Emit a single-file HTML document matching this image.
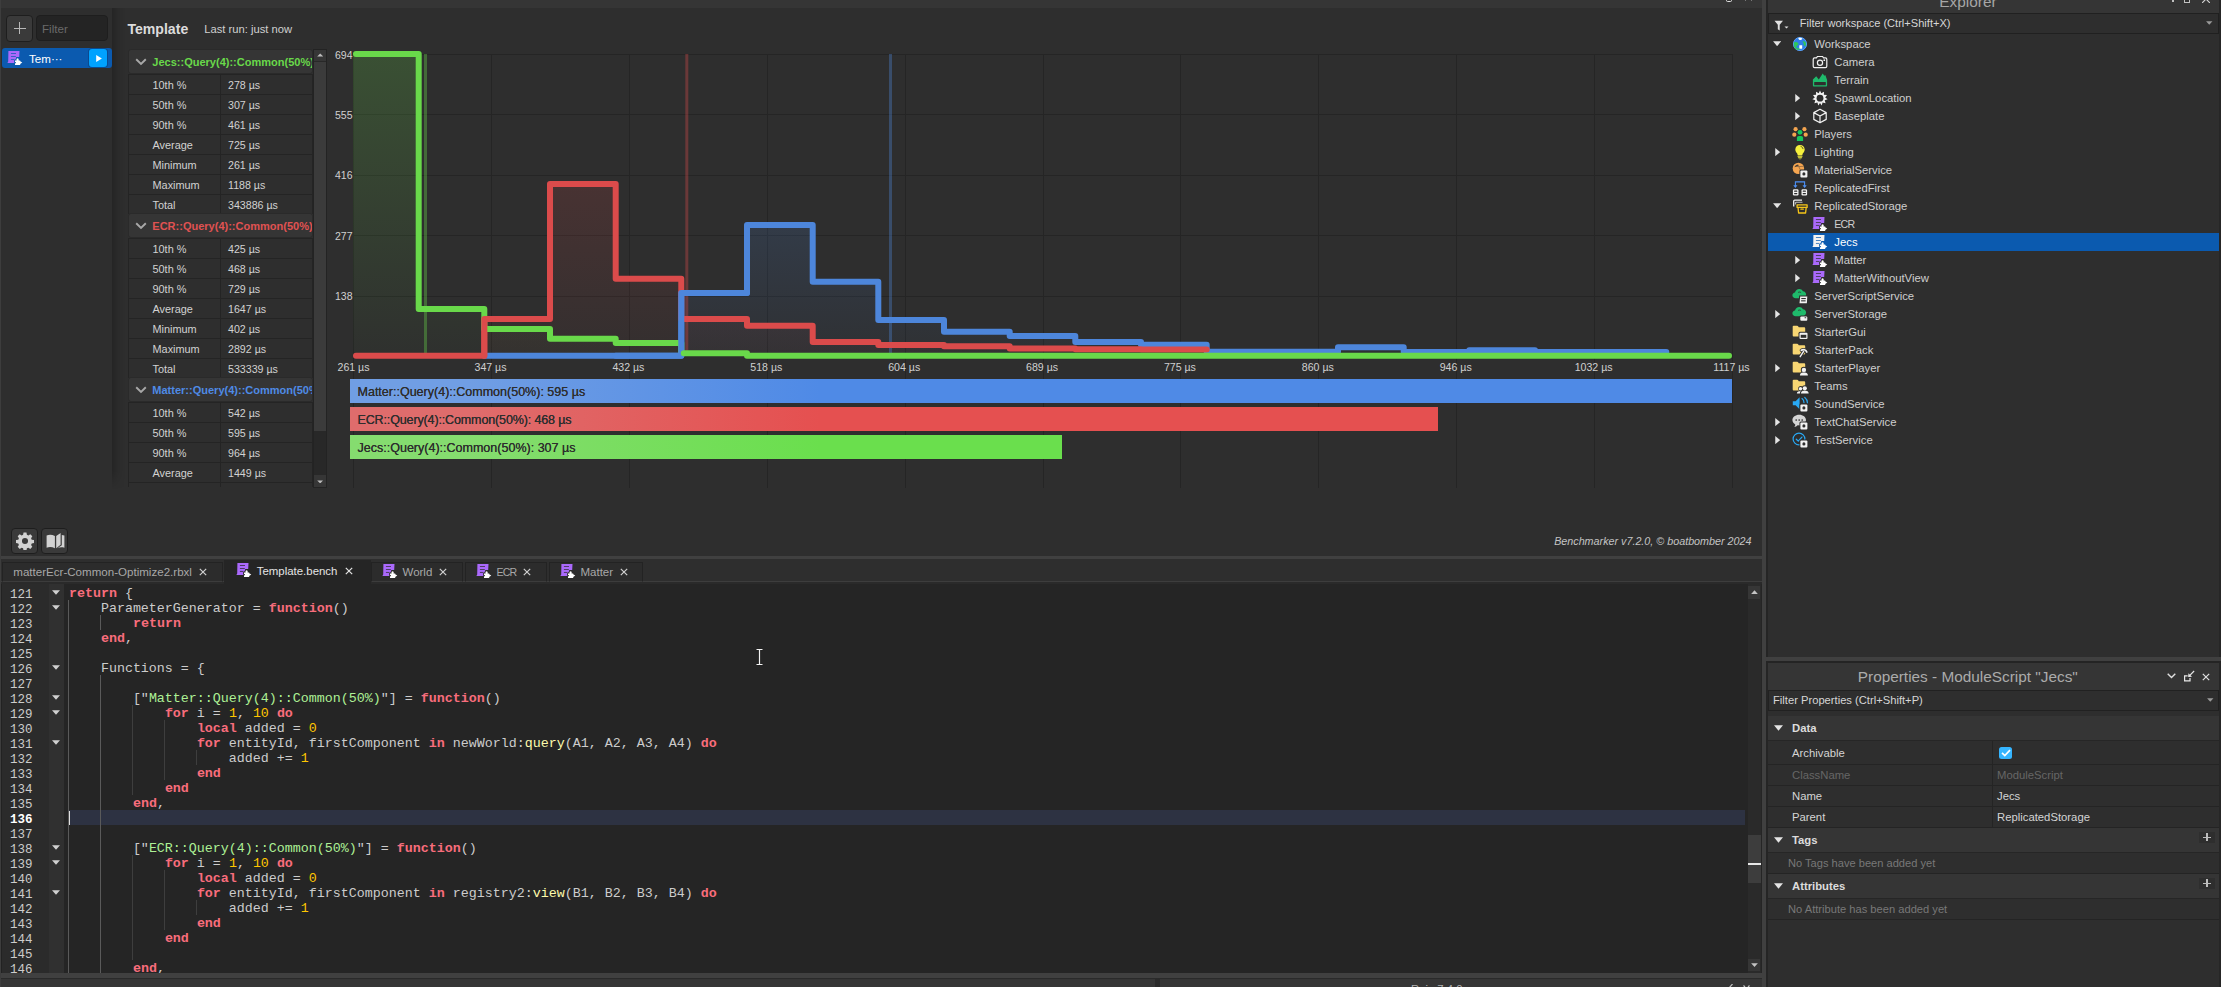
<!DOCTYPE html><html><head><meta charset="utf-8"><title>Benchmarker</title><style>
*{box-sizing:border-box;margin:0;padding:0}
html,body{width:2221px;height:987px;overflow:hidden;background:#2e2e2e;font-family:"Liberation Sans",sans-serif;color:#ccc}
div,span,svg{position:absolute}
.t{white-space:pre;height:20px;line-height:20px}
.ic{overflow:visible}
.m{font-family:"Liberation Mono",monospace;font-size:13.33px;white-space:pre;height:15px;line-height:15px;color:#ccc}
.k{color:#f86d7c;font-weight:bold;position:static}
.n{color:#ffc600;position:static}
.s{color:#adf195;position:static}
.f{color:#fdfbac;position:static}
.ln{font-family:"Liberation Mono",monospace;font-size:12.5px;height:15px;line-height:15px;left:10px;color:#ccc;white-space:pre}
.g{width:1px;background:#3e3e3e;height:15px}
.row{left:128px;width:185px;height:20px;border-top:1px solid #242424}
.hd{left:128px;width:185px;height:25px;background:#353535;border:1px solid #2a2a2a;border-radius:3px;overflow:hidden}
.tr{left:1768px;width:451px;height:18px}
.pr{left:1768px;width:451px;border-bottom:1px solid #222}
</style></head><body><div style="left:0px;top:0px;width:1762px;height:7.8px;background:#353535;"></div><div style="left:1725.8px;top:-3px;width:6.5px;height:5px;background:transparent;border:1.200px solid #e0e0e0;border-radius:1.500px"></div><div style="left:1744.5px;top:0px;width:1.2px;height:1px;background:#777;"></div><div style="left:1750.5px;top:0px;width:1.2px;height:1px;background:#777;"></div><div style="left:0px;top:0px;width:1.1px;height:556px;background:#3d3d3d;"></div><div style="left:6px;top:15px;width:26.5px;height:26.5px;background:#3a3a3a;border:1px solid #1e1e1e;border-radius:4px"></div><div style="left:13.5px;top:27.6px;width:12px;height:1.5px;background:#b8b8b8;"></div><div style="left:18.75px;top:22.3px;width:1.5px;height:12px;background:#b8b8b8;"></div><div style="left:36px;top:15px;width:72px;height:26px;background:#242424;border:1px solid #1e1e1e;border-radius:4px"></div><span class="t" style="left:42px;top:18.5px;font-size:11.6px;color:#6a6a6a;font-weight:normal;">Filter</span><div style="left:2px;top:48px;width:110px;height:20px;background:#0b5aaf;border-radius:3px"></div><svg class="ic" style="left:7px;top:50px" width="16" height="16" viewBox="0 0 16 16"><path fill="#aa69fb" d="M1.400.9H12.500L12.200 6.900H9.300L9.100 9.500H8V13.100H.4L1.200 11.400Z"/><g fill="#0b5aaf" opacity=".8"><rect x="3.900" y="3.050" width="5.100" height=".9"/><rect x="3.900" y="6" width="4.900" height=".9"/><rect x="3.900" y="8.950" width="3.600" height=".9"/></g><path fill="#0b5aaf" stroke="#0b5aaf" stroke-width="1.700" stroke-linejoin="round" d="M8 10.600H9.600C8.700 7.300 12.500 7.300 11.600 10.600H13.200V11.200L15.300 12.600 13.200 14V14.900H8V13.300C9.300 13.800 9.300 11.500 8 12Z"/><path fill="#fff" d="M8 10.600H9.600C8.700 7.300 12.500 7.300 11.600 10.600H13.200V11.200L15.300 12.600 13.200 14V14.900H8V13.300C9.300 13.800 9.300 11.500 8 12Z"/></svg><span class="t" style="left:29px;top:48.5px;font-size:11.6px;color:#ffffff;font-weight:normal;">Tem···</span><div style="left:89px;top:49px;width:18px;height:18px;background:#00a2ff;border-radius:3px;box-shadow:0 0 0 1px #0a4a90"></div><svg style="left:95.500px;top:54.500px" width="6" height="7" viewBox="0 0 6 7"><path fill="#fff" d="M.2 0 5.900 3.500.2 7z"/></svg><div style="left:112px;top:8px;width:13px;height:481px;background:linear-gradient(90deg,rgba(0,0,0,.2),rgba(0,0,0,.07) 45%,rgba(0,0,0,0));-webkit-mask-image:linear-gradient(#000 96%,transparent)"></div><span class="t" style="left:127.4px;top:19px;font-size:14.1px;color:#dcdcdc;font-weight:bold;">Template</span><span class="t" style="left:204.3px;top:19px;font-size:11.2px;color:#d0d0d0;font-weight:normal;">Last run: just now</span><div style="left:120px;top:49px;width:200px;height:438px;overflow:hidden"><div class="row" style="left:8px;top:25px;border-left:1px solid #242424;border-right:1px solid #242424"><div style="left:91px;top:0;width:1px;height:20px;background:#242424"></div><span class="t" style="left:23.500px;top:0px;font-size:10.9px;color:#d2d2d2">10th %</span><span class="t" style="left:99px;top:0px;font-size:10.65px;color:#d2d2d2">278 µs</span></div><div class="row" style="left:8px;top:45px;border-left:1px solid #242424;border-right:1px solid #242424"><div style="left:91px;top:0;width:1px;height:20px;background:#242424"></div><span class="t" style="left:23.500px;top:0px;font-size:10.9px;color:#d2d2d2">50th %</span><span class="t" style="left:99px;top:0px;font-size:10.65px;color:#d2d2d2">307 µs</span></div><div class="row" style="left:8px;top:65px;border-left:1px solid #242424;border-right:1px solid #242424"><div style="left:91px;top:0;width:1px;height:20px;background:#242424"></div><span class="t" style="left:23.500px;top:0px;font-size:10.9px;color:#d2d2d2">90th %</span><span class="t" style="left:99px;top:0px;font-size:10.65px;color:#d2d2d2">461 µs</span></div><div class="row" style="left:8px;top:85px;border-left:1px solid #242424;border-right:1px solid #242424"><div style="left:91px;top:0;width:1px;height:20px;background:#242424"></div><span class="t" style="left:23.500px;top:0px;font-size:10.9px;color:#d2d2d2">Average</span><span class="t" style="left:99px;top:0px;font-size:10.65px;color:#d2d2d2">725 µs</span></div><div class="row" style="left:8px;top:105px;border-left:1px solid #242424;border-right:1px solid #242424"><div style="left:91px;top:0;width:1px;height:20px;background:#242424"></div><span class="t" style="left:23.500px;top:0px;font-size:10.9px;color:#d2d2d2">Minimum</span><span class="t" style="left:99px;top:0px;font-size:10.65px;color:#d2d2d2">261 µs</span></div><div class="row" style="left:8px;top:125px;border-left:1px solid #242424;border-right:1px solid #242424"><div style="left:91px;top:0;width:1px;height:20px;background:#242424"></div><span class="t" style="left:23.500px;top:0px;font-size:10.9px;color:#d2d2d2">Maximum</span><span class="t" style="left:99px;top:0px;font-size:10.65px;color:#d2d2d2">1188 µs</span></div><div class="row" style="left:8px;top:145px;border-left:1px solid #242424;border-right:1px solid #242424"><div style="left:91px;top:0;width:1px;height:20px;background:#242424"></div><span class="t" style="left:23.500px;top:0px;font-size:10.9px;color:#d2d2d2">Total</span><span class="t" style="left:99px;top:0px;font-size:10.65px;color:#d2d2d2">343886 µs</span></div><div class="hd" style="left:8px;top:0px"><svg style="left:6px;top:8px" width="12" height="8" viewBox="0 0 12 8"><path fill="none" stroke="#a8a8a8" stroke-width="1.900" d="M1.200 1.300 6 6 10.800 1.300"/></svg><span class="t" style="left:23.300px;top:1.500px;font-size:11.03px;font-weight:bold;color:#69d94a">Jecs::Query(4)::Common(50%)</span></div><div class="row" style="left:8px;top:189px;border-left:1px solid #242424;border-right:1px solid #242424"><div style="left:91px;top:0;width:1px;height:20px;background:#242424"></div><span class="t" style="left:23.500px;top:0px;font-size:10.9px;color:#d2d2d2">10th %</span><span class="t" style="left:99px;top:0px;font-size:10.65px;color:#d2d2d2">425 µs</span></div><div class="row" style="left:8px;top:209px;border-left:1px solid #242424;border-right:1px solid #242424"><div style="left:91px;top:0;width:1px;height:20px;background:#242424"></div><span class="t" style="left:23.500px;top:0px;font-size:10.9px;color:#d2d2d2">50th %</span><span class="t" style="left:99px;top:0px;font-size:10.65px;color:#d2d2d2">468 µs</span></div><div class="row" style="left:8px;top:229px;border-left:1px solid #242424;border-right:1px solid #242424"><div style="left:91px;top:0;width:1px;height:20px;background:#242424"></div><span class="t" style="left:23.500px;top:0px;font-size:10.9px;color:#d2d2d2">90th %</span><span class="t" style="left:99px;top:0px;font-size:10.65px;color:#d2d2d2">729 µs</span></div><div class="row" style="left:8px;top:249px;border-left:1px solid #242424;border-right:1px solid #242424"><div style="left:91px;top:0;width:1px;height:20px;background:#242424"></div><span class="t" style="left:23.500px;top:0px;font-size:10.9px;color:#d2d2d2">Average</span><span class="t" style="left:99px;top:0px;font-size:10.65px;color:#d2d2d2">1647 µs</span></div><div class="row" style="left:8px;top:269px;border-left:1px solid #242424;border-right:1px solid #242424"><div style="left:91px;top:0;width:1px;height:20px;background:#242424"></div><span class="t" style="left:23.500px;top:0px;font-size:10.9px;color:#d2d2d2">Minimum</span><span class="t" style="left:99px;top:0px;font-size:10.65px;color:#d2d2d2">402 µs</span></div><div class="row" style="left:8px;top:289px;border-left:1px solid #242424;border-right:1px solid #242424"><div style="left:91px;top:0;width:1px;height:20px;background:#242424"></div><span class="t" style="left:23.500px;top:0px;font-size:10.9px;color:#d2d2d2">Maximum</span><span class="t" style="left:99px;top:0px;font-size:10.65px;color:#d2d2d2">2892 µs</span></div><div class="row" style="left:8px;top:309px;border-left:1px solid #242424;border-right:1px solid #242424"><div style="left:91px;top:0;width:1px;height:20px;background:#242424"></div><span class="t" style="left:23.500px;top:0px;font-size:10.9px;color:#d2d2d2">Total</span><span class="t" style="left:99px;top:0px;font-size:10.65px;color:#d2d2d2">533339 µs</span></div><div class="hd" style="left:8px;top:164px"><svg style="left:6px;top:8px" width="12" height="8" viewBox="0 0 12 8"><path fill="none" stroke="#a8a8a8" stroke-width="1.900" d="M1.200 1.300 6 6 10.800 1.300"/></svg><span class="t" style="left:23.300px;top:1.500px;font-size:11.03px;font-weight:bold;color:#e05252">ECR::Query(4)::Common(50%)</span></div><div class="row" style="left:8px;top:353px;border-left:1px solid #242424;border-right:1px solid #242424"><div style="left:91px;top:0;width:1px;height:20px;background:#242424"></div><span class="t" style="left:23.500px;top:0px;font-size:10.9px;color:#d2d2d2">10th %</span><span class="t" style="left:99px;top:0px;font-size:10.65px;color:#d2d2d2">542 µs</span></div><div class="row" style="left:8px;top:373px;border-left:1px solid #242424;border-right:1px solid #242424"><div style="left:91px;top:0;width:1px;height:20px;background:#242424"></div><span class="t" style="left:23.500px;top:0px;font-size:10.9px;color:#d2d2d2">50th %</span><span class="t" style="left:99px;top:0px;font-size:10.65px;color:#d2d2d2">595 µs</span></div><div class="row" style="left:8px;top:393px;border-left:1px solid #242424;border-right:1px solid #242424"><div style="left:91px;top:0;width:1px;height:20px;background:#242424"></div><span class="t" style="left:23.500px;top:0px;font-size:10.9px;color:#d2d2d2">90th %</span><span class="t" style="left:99px;top:0px;font-size:10.65px;color:#d2d2d2">964 µs</span></div><div class="row" style="left:8px;top:413px;border-left:1px solid #242424;border-right:1px solid #242424"><div style="left:91px;top:0;width:1px;height:20px;background:#242424"></div><span class="t" style="left:23.500px;top:0px;font-size:10.9px;color:#d2d2d2">Average</span><span class="t" style="left:99px;top:0px;font-size:10.65px;color:#d2d2d2">1449 µs</span></div><div class="row" style="left:8px;top:433px;border-left:1px solid #242424;border-right:1px solid #242424"><div style="left:91px;top:0;width:1px;height:20px;background:#242424"></div><span class="t" style="left:23.500px;top:0px;font-size:10.9px;color:#d2d2d2">Minimum</span><span class="t" style="left:99px;top:0px;font-size:10.65px;color:#d2d2d2">521 µs</span></div><div class="row" style="left:8px;top:453px;border-left:1px solid #242424;border-right:1px solid #242424"><div style="left:91px;top:0;width:1px;height:20px;background:#242424"></div><span class="t" style="left:23.500px;top:0px;font-size:10.9px;color:#d2d2d2">Maximum</span><span class="t" style="left:99px;top:0px;font-size:10.65px;color:#d2d2d2">4120 µs</span></div><div class="row" style="left:8px;top:473px;border-left:1px solid #242424;border-right:1px solid #242424"><div style="left:91px;top:0;width:1px;height:20px;background:#242424"></div><span class="t" style="left:23.500px;top:0px;font-size:10.9px;color:#d2d2d2">Total</span><span class="t" style="left:99px;top:0px;font-size:10.65px;color:#d2d2d2">1014300 µs</span></div><div class="hd" style="left:8px;top:328px"><svg style="left:6px;top:8px" width="12" height="8" viewBox="0 0 12 8"><path fill="none" stroke="#a8a8a8" stroke-width="1.900" d="M1.200 1.300 6 6 10.800 1.300"/></svg><span class="t" style="left:23.300px;top:1.500px;font-size:11.03px;font-weight:bold;color:#4f8be6">Matter::Query(4)::Common(50%)</span></div></div><div style="left:313.3px;top:48.5px;width:13.7px;height:439px;background:#282828;border:1px solid #232323"></div><div style="left:314.3px;top:49.5px;width:11.7px;height:11.5px;background:#363636;"></div><div style="left:314.3px;top:62px;width:11.7px;height:369px;background:#3b3b3b;"></div><div style="left:314.3px;top:475px;width:11.7px;height:11.5px;background:#363636;"></div><svg style="left:317px;top:53px" width="6.400" height="3.800" viewBox="0 0 8 5"><path fill="#bdbdbd" d="M0 4.500 4 .5 8 4.500z"/></svg><svg style="left:317px;top:479.500px" width="6.400" height="3.800" viewBox="0 0 8 5"><path fill="#bdbdbd" d="M0 .5 4 4.500 8 .5z"/></svg><svg style="left:0;top:0" width="1770" height="500" viewBox="0 0 1770 500"><defs><linearGradient id="gg" x1="0" y1="0" x2="0" y2="1"><stop offset="0" stop-color="#69d94a" stop-opacity=".2"/><stop offset="1" stop-color="#69d94a" stop-opacity=".015"/></linearGradient><linearGradient id="gr" x1="0" y1="0" x2="0" y2="1"><stop offset="0" stop-color="#db4b4b" stop-opacity=".15"/><stop offset="1" stop-color="#db4b4b" stop-opacity=".03"/></linearGradient><linearGradient id="gb" x1="0" y1="0" x2="0" y2="1"><stop offset="0" stop-color="#4d86db" stop-opacity=".15"/><stop offset="1" stop-color="#4d86db" stop-opacity=".03"/></linearGradient></defs><rect x="353" y="54" width="1" height="434" fill="#252525"/><rect x="491" y="54" width="1" height="434" fill="#252525"/><rect x="629" y="54" width="1" height="434" fill="#252525"/><rect x="767" y="54" width="1" height="434" fill="#252525"/><rect x="905" y="54" width="1" height="434" fill="#252525"/><rect x="1043" y="54" width="1" height="434" fill="#252525"/><rect x="1180" y="54" width="1" height="434" fill="#252525"/><rect x="1318" y="54" width="1" height="434" fill="#252525"/><rect x="1456" y="54" width="1" height="434" fill="#252525"/><rect x="1594" y="54" width="1" height="434" fill="#252525"/><rect x="1732" y="54" width="1" height="434" fill="#252525"/><rect x="353" y="54" width="1380" height="1" fill="#252525"/><rect x="353" y="114" width="1380" height="1" fill="#252525"/><rect x="353" y="175" width="1380" height="1" fill="#252525"/><rect x="353" y="235" width="1380" height="1" fill="#252525"/><rect x="353" y="296" width="1380" height="1" fill="#252525"/><path d="M681.3 355.5V293H747.0V225H812.7V281.8H878.3V320H944.0V331.7H1009.7V335.9H1075.3V341.9H1141.0V344.8H1206.7V351.7H1272.3V351.7H1338.0V347.3H1403.7V352H1469.3V350.2H1535.0V352H1600.7V352H1666.3V355.5Z" fill="url(#gb)"/><path d="M484.3 355.5V318.9H550.0V184H615.7V278.7H681.3V318.9H747.0V325.7H812.7V342H878.3V345H944.0V346.3H1009.7V348.4H1075.3V349.3H1141.0V349.6H1206.7V355.5Z" fill="url(#gr)"/><path d="M353.0 355.5V54H418.7V308.9H484.3V329.1H550.0V338.7H615.7V343H681.3V353.2H747.0V355.5Z" fill="url(#gg)"/><rect x="424" y="54" width="3" height="300" fill="#69d94a" opacity=".35"/><rect x="685.300" y="54" width="3" height="300" fill="#db4b4b" opacity=".35"/><rect x="889" y="54" width="3" height="300" fill="#4d86db" opacity=".35"/><path d="M484.3 355.7H550.0V355.7H615.7V355.7H681.3V293H747.0V225H812.7V281.8H878.3V320H944.0V331.7H1009.7V335.9H1075.3V341.9H1141.0V344.8H1206.7V351.7H1272.3V351.7H1338.0V347.3H1403.7V352H1469.3V350.2H1535.0V352H1600.7V352H1666.3" stroke="#4d86db" fill="none" stroke-width="6" stroke-linejoin="round" stroke-linecap="round"/><path d="M356.0 355.7H418.7V355.7H484.3V318.9H550.0V184H615.7V278.7H681.3V318.9H747.0V325.7H812.7V342H878.3V345H944.0V346.3H1009.7V348.4H1075.3V349.3H1141.0V349.6H1206.7" stroke="#db4b4b" fill="none" stroke-width="6" stroke-linejoin="round" stroke-linecap="round"/><path d="M356.0 54H418.7V308.9H484.3V329.1H550.0V338.7H615.7V343H681.3V353.2" stroke="#69d94a" fill="none" stroke-width="6" stroke-linejoin="round" stroke-linecap="round"/><path d="M615.7 355.700H681.3V293H747.0" stroke="#4d86db" fill="none" stroke-width="6" stroke-linejoin="round" stroke-linecap="round"/><path d="M683.8 353.2H747.0V355.700H1729.0" stroke="#69d94a" fill="none" stroke-width="6" stroke-linejoin="round" stroke-linecap="round"/><path d="M484.3 355.700V318.900H492.3" stroke="#db4b4b" fill="none" stroke-width="6" stroke-linejoin="round" stroke-linecap="round"/></svg><span class="t" style="right:1868.5px;top:44.5px;font-size:10.5px;color:#d0d0d0;font-weight:normal;">694</span><span class="t" style="right:1868.5px;top:104.9px;font-size:10.5px;color:#d0d0d0;font-weight:normal;">555</span><span class="t" style="right:1868.5px;top:165.3px;font-size:10.5px;color:#d0d0d0;font-weight:normal;">416</span><span class="t" style="right:1868.5px;top:225.7px;font-size:10.5px;color:#d0d0d0;font-weight:normal;">277</span><span class="t" style="right:1868.5px;top:286.0px;font-size:10.5px;color:#d0d0d0;font-weight:normal;">138</span><span class="t" style="left:337.5px;top:356.7px;font-size:10.6px;color:#d0d0d0;font-weight:normal;">261 µs</span><span class="t" style="left:490.5px;top:356.7px;font-size:10.6px;color:#d0d0d0;font-weight:normal;transform:translateX(-50%);">347 µs</span><span class="t" style="left:628.4px;top:356.7px;font-size:10.6px;color:#d0d0d0;font-weight:normal;transform:translateX(-50%);">432 µs</span><span class="t" style="left:766.3px;top:356.7px;font-size:10.6px;color:#d0d0d0;font-weight:normal;transform:translateX(-50%);">518 µs</span><span class="t" style="left:904.2px;top:356.7px;font-size:10.6px;color:#d0d0d0;font-weight:normal;transform:translateX(-50%);">604 µs</span><span class="t" style="left:1042.1px;top:356.7px;font-size:10.6px;color:#d0d0d0;font-weight:normal;transform:translateX(-50%);">689 µs</span><span class="t" style="left:1179.9px;top:356.7px;font-size:10.6px;color:#d0d0d0;font-weight:normal;transform:translateX(-50%);">775 µs</span><span class="t" style="left:1317.8px;top:356.7px;font-size:10.6px;color:#d0d0d0;font-weight:normal;transform:translateX(-50%);">860 µs</span><span class="t" style="left:1455.7px;top:356.7px;font-size:10.6px;color:#d0d0d0;font-weight:normal;transform:translateX(-50%);">946 µs</span><span class="t" style="left:1593.6px;top:356.7px;font-size:10.6px;color:#d0d0d0;font-weight:normal;transform:translateX(-50%);">1032 µs</span><span class="t" style="left:1731.5px;top:356.7px;font-size:10.6px;color:#d0d0d0;font-weight:normal;transform:translateX(-50%);">1117 µs</span><div style="left:349.5px;top:379px;width:1382.5px;height:24px;background:#4f8ae6;background:linear-gradient(90deg,#709ee4 0px,#709ee4 120px,#4f8ae6 470px,#4f8ae6 100%)"></div><span class="t" style="left:357.5px;top:382px;font-size:12.53px;color:#2e2e2e;font-weight:normal;text-shadow:0 0 .4px #2b2b2b">Matter::Query(4)::Common(50%): 595 µs</span><div style="left:349.5px;top:407px;width:1088.5px;height:24px;background:#e55050;background:linear-gradient(90deg,#df6c6c 0px,#df6c6c 120px,#e55050 470px,#e55050 100%)"></div><span class="t" style="left:357.5px;top:410px;font-size:12.53px;color:#2e2e2e;font-weight:normal;text-shadow:0 0 .4px #2b2b2b;letter-spacing:-.14px">ECR::Query(4)::Common(50%): 468 µs</span><div style="left:349.5px;top:435px;width:712.5px;height:24px;background:#6adf4d;background:linear-gradient(90deg,#85dc6f 0px,#85dc6f 120px,#6adf4d 470px,#6adf4d 100%)"></div><span class="t" style="left:357.5px;top:438px;font-size:12.53px;color:#2e2e2e;font-weight:normal;text-shadow:0 0 .4px #2b2b2b">Jecs::Query(4)::Common(50%): 307 µs</span><div style="left:11px;top:527.5px;width:26.5px;height:26px;background:#3a3a3a;border:1px solid #1e1e1e;border-radius:4px"></div><div style="left:41px;top:527.5px;width:26.5px;height:26px;background:#3a3a3a;border:1px solid #1e1e1e;border-radius:4px"></div><svg style="left:15.800px;top:532.200px" width="18" height="18" viewBox="0 0 16 16"><path fill="#d2d2d2" fill-rule="evenodd" d="M6.700.5h2.600l.4 2 1.300.6 1.700-1.100 1.800 1.800-1.100 1.700.6 1.300 2 .4v2.600l-2 .4-.6 1.300 1.100 1.700-1.800 1.800-1.700-1.100-1.300.6-.4 2H6.700l-.4-2-1.300-.6-1.700 1.100-1.800-1.800 1.100-1.700-.6-1.300-2-.4V7.200l2-.4.600-1.300L1.500 3.800 3.300 2l1.700 1.100 1.300-.6zM8 5.300a2.700 2.700 0 100 5.400 2.700 2.700 0 000-5.400z"/></svg><svg style="left:45.500px;top:531.500px" width="19" height="18" viewBox="0 0 19 18"><path fill="#d2d2d2" d="M.6 3.600C3.200 2.500 6 2.600 8.900 4.100V16.200C6.100 14.900 3.300 14.800.6 15.700zM10.200 4.100 14.600.9V12.800L10.200 16.200zM15.800 3 18.400 3.600V15.700C15.800 14.900 13.300 15.100 11.300 16.200L15.800 13.300z"/></svg><span class="t" style="right:469.5px;top:531px;font-size:10.75px;color:#c4c4c4;font-weight:normal;font-style:italic">Benchmarker v7.2.0, © boatbomber 2024</span><div style="left:0px;top:556px;width:1762px;height:3px;background:#404040;"></div><div style="left:0px;top:559px;width:1762px;height:22px;background:#2e2e2e;"></div><div style="left:0px;top:581px;width:1762px;height:1.4px;background:#3d3d3d;"></div><div style="left:0px;top:582.4px;width:1762px;height:1.6px;background:#2a2a2a;"></div><div style="left:2px;top:562px;width:221px;height:20px;background:#2c2c2c;border:1px solid #232323;border-bottom:1px solid #3c3c3c"></div><span class="t" style="left:13.3px;top:562px;font-size:11.57px;color:#a8a8a8;font-weight:normal;">matterEcr-Common-Optimize2.rbxl</span><svg style="left:199.3px;top:568px" width="8" height="8" viewBox="0 0 8 8"><path stroke="#d0d0d0" stroke-width="1.200" d="M.8.8 7.200 7.200M7.200.8.8 7.200"/></svg><div style="left:223.5px;top:559.5px;width:147px;height:24.5px;background:#252525;"></div><svg class="ic" style="left:236px;top:562px" width="16" height="16" viewBox="0 0 16 16"><path fill="#aa69fb" d="M1.400.9H12.500L12.200 6.900H9.300L9.100 9.500H8V13.100H.4L1.200 11.400Z"/><g fill="#252525" opacity=".8"><rect x="3.900" y="3.050" width="5.100" height=".9"/><rect x="3.900" y="6" width="4.900" height=".9"/><rect x="3.900" y="8.950" width="3.600" height=".9"/></g><path fill="#252525" stroke="#252525" stroke-width="1.700" stroke-linejoin="round" d="M8 10.600H9.600C8.700 7.300 12.500 7.300 11.600 10.600H13.200V11.200L15.300 12.600 13.200 14V14.900H8V13.300C9.300 13.800 9.300 11.500 8 12Z"/><path fill="#fff" d="M8 10.600H9.600C8.700 7.300 12.500 7.300 11.600 10.600H13.200V11.200L15.300 12.600 13.200 14V14.900H8V13.300C9.300 13.800 9.300 11.500 8 12Z"/></svg><span class="t" style="left:256.7px;top:560.5px;font-size:11.44px;color:#e4e4e4;font-weight:normal;">Template.bench</span><svg style="left:345.3px;top:567px" width="8" height="8" viewBox="0 0 8 8"><path stroke="#e4e4e4" stroke-width="1.200" d="M.8.8 7.200 7.200M7.200.8.8 7.200"/></svg><div style="left:371px;top:562px;width:92px;height:20px;background:#2c2c2c;border:1px solid #232323;border-bottom:1px solid #3c3c3c"></div><svg class="ic" style="left:382px;top:563px" width="16" height="16" viewBox="0 0 16 16"><path fill="#aa69fb" d="M1.400.9H12.500L12.200 6.900H9.300L9.100 9.500H8V13.100H.4L1.200 11.400Z"/><g fill="#2c2c2c" opacity=".8"><rect x="3.900" y="3.050" width="5.100" height=".9"/><rect x="3.900" y="6" width="4.900" height=".9"/><rect x="3.900" y="8.950" width="3.600" height=".9"/></g><path fill="#2c2c2c" stroke="#2c2c2c" stroke-width="1.700" stroke-linejoin="round" d="M8 10.600H9.600C8.700 7.300 12.500 7.300 11.600 10.600H13.200V11.200L15.300 12.600 13.200 14V14.900H8V13.300C9.300 13.800 9.300 11.500 8 12Z"/><path fill="#fff" d="M8 10.600H9.600C8.700 7.300 12.500 7.300 11.600 10.600H13.200V11.200L15.300 12.600 13.200 14V14.900H8V13.300C9.300 13.800 9.300 11.500 8 12Z"/></svg><span class="t" style="left:402.5px;top:562px;font-size:11.5px;color:#a8a8a8;font-weight:normal;">World</span><svg style="left:439px;top:568px" width="8" height="8" viewBox="0 0 8 8"><path stroke="#d0d0d0" stroke-width="1.200" d="M.8.8 7.200 7.200M7.200.8.8 7.200"/></svg><div style="left:465px;top:562px;width:82px;height:20px;background:#2c2c2c;border:1px solid #232323;border-bottom:1px solid #3c3c3c"></div><svg class="ic" style="left:476px;top:563px" width="16" height="16" viewBox="0 0 16 16"><path fill="#aa69fb" d="M1.400.9H12.500L12.200 6.900H9.300L9.100 9.500H8V13.100H.4L1.200 11.400Z"/><g fill="#2c2c2c" opacity=".8"><rect x="3.900" y="3.050" width="5.100" height=".9"/><rect x="3.900" y="6" width="4.900" height=".9"/><rect x="3.900" y="8.950" width="3.600" height=".9"/></g><path fill="#2c2c2c" stroke="#2c2c2c" stroke-width="1.700" stroke-linejoin="round" d="M8 10.600H9.600C8.700 7.300 12.500 7.300 11.600 10.600H13.200V11.200L15.300 12.600 13.200 14V14.900H8V13.300C9.300 13.800 9.300 11.500 8 12Z"/><path fill="#fff" d="M8 10.600H9.600C8.700 7.300 12.500 7.300 11.600 10.600H13.200V11.200L15.300 12.600 13.200 14V14.900H8V13.300C9.300 13.800 9.300 11.500 8 12Z"/></svg><span class="t" style="left:496.5px;top:562px;font-size:10.6px;color:#a8a8a8;font-weight:normal;letter-spacing:-.9px">ECR</span><svg style="left:523px;top:568px" width="8" height="8" viewBox="0 0 8 8"><path stroke="#d0d0d0" stroke-width="1.200" d="M.8.8 7.200 7.200M7.200.8.8 7.200"/></svg><div style="left:549px;top:562px;width:94px;height:20px;background:#2c2c2c;border:1px solid #232323;border-bottom:1px solid #3c3c3c"></div><svg class="ic" style="left:560px;top:563px" width="16" height="16" viewBox="0 0 16 16"><path fill="#aa69fb" d="M1.400.9H12.500L12.200 6.900H9.300L9.100 9.500H8V13.100H.4L1.200 11.400Z"/><g fill="#2c2c2c" opacity=".8"><rect x="3.900" y="3.050" width="5.100" height=".9"/><rect x="3.900" y="6" width="4.900" height=".9"/><rect x="3.900" y="8.950" width="3.600" height=".9"/></g><path fill="#2c2c2c" stroke="#2c2c2c" stroke-width="1.700" stroke-linejoin="round" d="M8 10.600H9.600C8.700 7.300 12.500 7.300 11.600 10.600H13.200V11.200L15.300 12.600 13.200 14V14.900H8V13.300C9.300 13.800 9.300 11.500 8 12Z"/><path fill="#fff" d="M8 10.600H9.600C8.700 7.300 12.500 7.300 11.600 10.600H13.200V11.200L15.300 12.600 13.200 14V14.900H8V13.300C9.300 13.800 9.300 11.500 8 12Z"/></svg><span class="t" style="left:580.5px;top:562px;font-size:11.5px;color:#a8a8a8;font-weight:normal;">Matter</span><svg style="left:620px;top:568px" width="8" height="8" viewBox="0 0 8 8"><path stroke="#d0d0d0" stroke-width="1.200" d="M.8.8 7.200 7.200M7.200.8.8 7.200"/></svg><div style="left:2px;top:584px;width:1760px;height:388.5px;background:#252525;"></div><div style="left:2.3px;top:584px;width:46.4px;height:388.5px;background:#2b2b2b;"></div><div style="left:48.7px;top:584px;width:15.4px;height:388.5px;background:#303030;"></div><div style="left:0;top:584px;width:1747px;height:388.500px;overflow:hidden"><div style="left:69px;top:226px;width:1676px;height:15px;background:#2d3242"></div><span class="ln" style="top:4.1px">121</span><svg style="left:52px;top:6.0px" width="8" height="5" viewBox="0 0 8 5"><path fill="#d0d0d0" d="M0 .3H8L4 4.800z"/></svg><span class="m" style="left:68.900px;top:1.5px"><span class="k">return</span> {</span><span class="ln" style="top:19.1px">122</span><svg style="left:52px;top:21.0px" width="8" height="5" viewBox="0 0 8 5"><path fill="#d0d0d0" d="M0 .3H8L4 4.800z"/></svg><div class="g" style="left:68px;top:16.0px;background:#5a5a5a"></div><span class="m" style="left:68.900px;top:16.5px">    ParameterGenerator = <span class="k">function</span>()</span><span class="ln" style="top:34.1px">123</span><div class="g" style="left:68px;top:31.0px;background:#5a5a5a"></div><div class="g" style="left:100px;top:31.0px;background:#5a5a5a"></div><span class="m" style="left:68.900px;top:31.5px">        <span class="k">return</span></span><span class="ln" style="top:49.1px">124</span><div class="g" style="left:68px;top:46.0px;background:#5a5a5a"></div><span class="m" style="left:68.900px;top:46.5px">    <span class="k">end</span>,</span><span class="ln" style="top:64.1px">125</span><div class="g" style="left:68px;top:61.0px;background:#5a5a5a"></div><span class="ln" style="top:79.1px">126</span><svg style="left:52px;top:81.0px" width="8" height="5" viewBox="0 0 8 5"><path fill="#d0d0d0" d="M0 .3H8L4 4.800z"/></svg><div class="g" style="left:68px;top:76.0px;background:#5a5a5a"></div><span class="m" style="left:68.900px;top:76.5px">    Functions = {</span><span class="ln" style="top:94.1px">127</span><div class="g" style="left:68px;top:91.0px;background:#5a5a5a"></div><div class="g" style="left:100px;top:91.0px;background:#5a5a5a"></div><span class="ln" style="top:109.1px">128</span><svg style="left:52px;top:111.0px" width="8" height="5" viewBox="0 0 8 5"><path fill="#d0d0d0" d="M0 .3H8L4 4.800z"/></svg><div class="g" style="left:68px;top:106.0px;background:#5a5a5a"></div><div class="g" style="left:100px;top:106.0px;background:#5a5a5a"></div><span class="m" style="left:68.900px;top:106.5px">        [&quot;<span class="s">Matter::Query(4)::Common(50%)</span>&quot;] = <span class="k">function</span>()</span><span class="ln" style="top:124.1px">129</span><svg style="left:52px;top:126.0px" width="8" height="5" viewBox="0 0 8 5"><path fill="#d0d0d0" d="M0 .3H8L4 4.800z"/></svg><div class="g" style="left:68px;top:121.0px;background:#5a5a5a"></div><div class="g" style="left:100px;top:121.0px;background:#5a5a5a"></div><div class="g" style="left:132px;top:121.0px"></div><span class="m" style="left:68.900px;top:121.5px">            <span class="k">for</span> i = <span class="n">1</span>, <span class="n">10</span> <span class="k">do</span></span><span class="ln" style="top:139.1px">130</span><div class="g" style="left:68px;top:136.0px;background:#5a5a5a"></div><div class="g" style="left:100px;top:136.0px;background:#5a5a5a"></div><div class="g" style="left:132px;top:136.0px"></div><div class="g" style="left:164px;top:136.0px"></div><span class="m" style="left:68.900px;top:136.5px">                <span class="k">local</span> added = <span class="n">0</span></span><span class="ln" style="top:154.1px">131</span><svg style="left:52px;top:156.0px" width="8" height="5" viewBox="0 0 8 5"><path fill="#d0d0d0" d="M0 .3H8L4 4.800z"/></svg><div class="g" style="left:68px;top:151.0px;background:#5a5a5a"></div><div class="g" style="left:100px;top:151.0px;background:#5a5a5a"></div><div class="g" style="left:132px;top:151.0px"></div><div class="g" style="left:164px;top:151.0px"></div><span class="m" style="left:68.900px;top:151.5px">                <span class="k">for</span> entityId, firstComponent <span class="k">in</span> newWorld:<span class="f">query</span>(A1, A2, A3, A4) <span class="k">do</span></span><span class="ln" style="top:169.1px">132</span><div class="g" style="left:68px;top:166.0px;background:#5a5a5a"></div><div class="g" style="left:100px;top:166.0px;background:#5a5a5a"></div><div class="g" style="left:132px;top:166.0px"></div><div class="g" style="left:164px;top:166.0px"></div><div class="g" style="left:196px;top:166.0px"></div><span class="m" style="left:68.900px;top:166.5px">                    added += <span class="n">1</span></span><span class="ln" style="top:184.1px">133</span><div class="g" style="left:68px;top:181.0px;background:#5a5a5a"></div><div class="g" style="left:100px;top:181.0px;background:#5a5a5a"></div><div class="g" style="left:132px;top:181.0px"></div><div class="g" style="left:164px;top:181.0px"></div><span class="m" style="left:68.900px;top:181.5px">                <span class="k">end</span></span><span class="ln" style="top:199.1px">134</span><div class="g" style="left:68px;top:196.0px;background:#5a5a5a"></div><div class="g" style="left:100px;top:196.0px;background:#5a5a5a"></div><div class="g" style="left:132px;top:196.0px"></div><span class="m" style="left:68.900px;top:196.5px">            <span class="k">end</span></span><span class="ln" style="top:214.1px">135</span><div class="g" style="left:68px;top:211.0px;background:#5a5a5a"></div><div class="g" style="left:100px;top:211.0px;background:#5a5a5a"></div><span class="m" style="left:68.900px;top:211.5px">        <span class="k">end</span>,</span><span class="ln" style="top:229.1px;font-weight:bold;color:#fff">136</span><div class="g" style="left:68px;top:226.0px;background:#5a5a5a"></div><div class="g" style="left:100px;top:226.0px;background:#5a5a5a"></div><span class="ln" style="top:244.1px">137</span><div class="g" style="left:68px;top:241.0px;background:#5a5a5a"></div><div class="g" style="left:100px;top:241.0px;background:#5a5a5a"></div><span class="ln" style="top:259.1px">138</span><svg style="left:52px;top:261.0px" width="8" height="5" viewBox="0 0 8 5"><path fill="#d0d0d0" d="M0 .3H8L4 4.800z"/></svg><div class="g" style="left:68px;top:256.0px;background:#5a5a5a"></div><div class="g" style="left:100px;top:256.0px;background:#5a5a5a"></div><span class="m" style="left:68.900px;top:256.5px">        [&quot;<span class="s">ECR::Query(4)::Common(50%)</span>&quot;] = <span class="k">function</span>()</span><span class="ln" style="top:274.1px">139</span><svg style="left:52px;top:276.0px" width="8" height="5" viewBox="0 0 8 5"><path fill="#d0d0d0" d="M0 .3H8L4 4.800z"/></svg><div class="g" style="left:68px;top:271.0px;background:#5a5a5a"></div><div class="g" style="left:100px;top:271.0px;background:#5a5a5a"></div><div class="g" style="left:132px;top:271.0px"></div><span class="m" style="left:68.900px;top:271.5px">            <span class="k">for</span> i = <span class="n">1</span>, <span class="n">10</span> <span class="k">do</span></span><span class="ln" style="top:289.1px">140</span><div class="g" style="left:68px;top:286.0px;background:#5a5a5a"></div><div class="g" style="left:100px;top:286.0px;background:#5a5a5a"></div><div class="g" style="left:132px;top:286.0px"></div><div class="g" style="left:164px;top:286.0px"></div><span class="m" style="left:68.900px;top:286.5px">                <span class="k">local</span> added = <span class="n">0</span></span><span class="ln" style="top:304.1px">141</span><svg style="left:52px;top:306.0px" width="8" height="5" viewBox="0 0 8 5"><path fill="#d0d0d0" d="M0 .3H8L4 4.800z"/></svg><div class="g" style="left:68px;top:301.0px;background:#5a5a5a"></div><div class="g" style="left:100px;top:301.0px;background:#5a5a5a"></div><div class="g" style="left:132px;top:301.0px"></div><div class="g" style="left:164px;top:301.0px"></div><span class="m" style="left:68.900px;top:301.5px">                <span class="k">for</span> entityId, firstComponent <span class="k">in</span> registry2:<span class="f">view</span>(B1, B2, B3, B4) <span class="k">do</span></span><span class="ln" style="top:319.1px">142</span><div class="g" style="left:68px;top:316.0px;background:#5a5a5a"></div><div class="g" style="left:100px;top:316.0px;background:#5a5a5a"></div><div class="g" style="left:132px;top:316.0px"></div><div class="g" style="left:164px;top:316.0px"></div><div class="g" style="left:196px;top:316.0px"></div><span class="m" style="left:68.900px;top:316.5px">                    added += <span class="n">1</span></span><span class="ln" style="top:334.1px">143</span><div class="g" style="left:68px;top:331.0px;background:#5a5a5a"></div><div class="g" style="left:100px;top:331.0px;background:#5a5a5a"></div><div class="g" style="left:132px;top:331.0px"></div><div class="g" style="left:164px;top:331.0px"></div><span class="m" style="left:68.900px;top:331.5px">                <span class="k">end</span></span><span class="ln" style="top:349.1px">144</span><div class="g" style="left:68px;top:346.0px;background:#5a5a5a"></div><div class="g" style="left:100px;top:346.0px;background:#5a5a5a"></div><div class="g" style="left:132px;top:346.0px"></div><span class="m" style="left:68.900px;top:346.5px">            <span class="k">end</span></span><span class="ln" style="top:364.1px">145</span><div class="g" style="left:68px;top:361.0px;background:#5a5a5a"></div><div class="g" style="left:100px;top:361.0px;background:#5a5a5a"></div><div class="g" style="left:132px;top:361.0px"></div><span class="ln" style="top:379.1px">146</span><div class="g" style="left:68px;top:376.0px;background:#5a5a5a"></div><div class="g" style="left:100px;top:376.0px;background:#5a5a5a"></div><span class="m" style="left:68.900px;top:376.5px">        <span class="k">end</span>,</span><div style="left:69px;top:226.500px;width:1px;height:14px;background:#e0e0e0"></div></div><div style="left:1747.5px;top:584px;width:13px;height:388.5px;background:#2a2a2a;"></div><div style="left:1748px;top:586px;width:12px;height:12.8px;background:#363636;"></div><div style="left:1748px;top:959px;width:12px;height:11.8px;background:#363636;"></div><div style="left:1748px;top:834.5px;width:12.5px;height:48.5px;background:#3d3d3d;"></div><div style="left:1747.5px;top:863px;width:13.5px;height:2px;background:#e8e8e8;"></div><svg style="left:1750.500px;top:590px" width="7" height="4.200" viewBox="0 0 8 5"><path fill="#c4c4c4" d="M0 4.700 4 .3 8 4.700z"/></svg><svg style="left:1750.500px;top:963px" width="7" height="4.200" viewBox="0 0 8 5"><path fill="#c4c4c4" d="M0 .3 4 4.700 8 .3z"/></svg><svg style="left:755px;top:648px" width="9" height="18" viewBox="0 0 9 18"><path fill="none" stroke="#222" stroke-width="3" d="M1.500 1.500H7.500M4.500 1.500V16.500M1.500 16.500H7.500"/><path fill="none" stroke="#f4f4f4" stroke-width="1.200" d="M1.500 1.500H7.500M4.500 1.500V16.500M1.500 16.500H7.500"/></svg><div style="left:0px;top:972.5px;width:1762px;height:5.5px;background:#404040;"></div><div style="left:0px;top:978px;width:1155px;height:9px;background:#353535;border-top:1px solid #2a2a2a"></div><div style="left:1155px;top:978px;width:5px;height:9px;background:#2a2a2a;"></div><div style="left:1160px;top:978px;width:602px;height:9px;background:#353535;border-top:1px solid #2a2a2a"></div><div style="left:1405px;top:978px;width:80px;height:9px;overflow:hidden"><span class="t" style="left:6px;top:0.800px;font-size:11.3px;color:#b0b0b0">Rojo 7.4.0</span></div><svg style="left:1728px;top:984px" width="30" height="3" viewBox="0 0 30 3"><path stroke="#c0c0c0" stroke-width="1.200" d="M1 4 4.500 0M15.500 1.500 17 3M21.500 1.500 20 3"/></svg><div style="left:1762px;top:0px;width:4.2px;height:987px;background:#404040;"></div><div style="left:1766.2px;top:0px;width:1.8px;height:987px;background:#252525;"></div><div style="left:2219px;top:0px;width:2px;height:987px;background:#262626;"></div><div style="left:1768px;top:0px;width:451px;height:13px;background:#353535;"></div><div style="left:1768px;top:0;width:451px;height:12px;overflow:hidden"><span class="t" style="left:200px;top:-8px;transform:translateX(-50%);font-size:15.4px;color:#a6a6a6">Explorer</span></div><div style="left:2172px;top:0px;width:2px;height:2px;background:#c0c0c0;"></div><div style="left:2184px;top:0px;width:6px;height:3px;background:#2e2e2e;border:1px solid #c0c0c0;border-top:0"></div><svg style="left:2202px;top:0" width="8" height="3" viewBox="0 0 8 3"><path stroke="#d0d0d0" stroke-width="1.200" d="M0 -5 8 3M8 -5 0 3"/></svg><div style="left:1768px;top:12.7px;width:451px;height:21.5px;background:#2e2e2e;border:1.500px solid #202020;border-left-width:1px;border-right-width:1px"></div><svg style="left:1773.700px;top:20.300px" width="17" height="11" viewBox="0 0 17 11"><path fill="#e0e0e0" d="M.5.8H9L5.700 4.800V10.500L3.800 9.300V4.800z"/><path fill="#e0e0e0" d="M10.500 6.500h4L12.500 8.600z"/></svg><span class="t" style="left:1799.7px;top:12.5px;font-size:11.09px;color:#d6d6d6;font-weight:normal;">Filter workspace (Ctrl+Shift+X)</span><svg style="left:2206px;top:21px" width="6.500" height="4" viewBox="0 0 8 5"><path fill="#9a9a9a" d="M0 .3H8L4 4.700z"/></svg><svg style="left:1772.9px;top:40.8px" width="8.200" height="5.400" viewBox="0 0 9 6"><path fill="#e4e4e4" d="M0 .3H9L4.500 5.800z"/></svg><svg class="ic" style="left:1792px;top:36px" width="16" height="16" viewBox="0 0 16 16"><circle cx="8" cy="8" r="6.6" fill="#2f7fe8" stroke="#5aa5ff" stroke-width=".9"/><path fill="#2fc65d" d="M2.2 6.200c1.500-.6 3.200-.3 4 .9.700 1.200-.2 2.300-1.400 2.900-1 .5-.3 2.100.9 2.200 1.200.1 2.400-.2 3.100.6-1.200 1.300-3.600 1.300-5.200.1C1.900 11.600 1.400 8.500 2.200 6.200z"/><path fill="#2fc65d" d="M10.600 5.500c1-.4 2.400.1 3.100 1.100.4 1.400.2 2.700-.4 3.900-1-.3-1.700-1.300-1.600-2.400.1-.9-.6-1.700-1.100-2.600z"/><path fill="#fff" d="M6.300 2c1.400-.5 3-.3 4.100.4-.4 1.100-1.500 1.500-2.600 1.500-.9 0-1.300-.9-1.500-1.900zM7.300 9.300h2.900v3.300c-.9.300-1.900.2-2.900 0z"/></svg><span class="t" style="left:1814.3px;top:33.5px;font-size:11.3px;color:#cfcfcf;font-weight:normal;">Workspace</span><svg class="ic" style="left:1812px;top:54px" width="16" height="16" viewBox="0 0 16 16"><path fill="none" stroke="#f2f2f2" stroke-width="1.2" d="M2.600 3.800h1.900l.9-1.300h5.200l.9 1.300h1.900c.8 0 1.400.6 1.400 1.400v7c0 .8-.6 1.400-1.400 1.400H2.600c-.8 0-1.400-.6-1.400-1.400v-7c0-.8.600-1.400 1.400-1.400z"/><circle cx="8" cy="8.800" r="2.600" fill="none" stroke="#f2f2f2" stroke-width="1.200"/><circle cx="12.300" cy="6.200" r=".9" fill="#f2f2f2"/></svg><span class="t" style="left:1834.3px;top:51.5px;font-size:11.3px;color:#cfcfcf;font-weight:normal;">Camera</span><svg class="ic" style="left:1812px;top:72px" width="16" height="16" viewBox="0 0 16 16"><path fill="#1fba6b" d="M.9 7.600 4.200 4.300 6.800 7.400 10.700 1.400 12.300 3.800 13.300 3 15.100 8V13.400c0 .7-.5 1.200-1.200 1.200H2.100c-.7 0-1.200-.5-1.200-1.200z"/><rect x="2.200" y="9.900" width="11.600" height="3.400" rx=".4" fill="#2e2e2e"/></svg><span class="t" style="left:1834.3px;top:69.5px;font-size:11.3px;color:#cfcfcf;font-weight:normal;">Terrain</span><svg style="left:1794.8px;top:93.9px" width="5.400" height="8.200" viewBox="0 0 6 9"><path fill="#e4e4e4" d="M.3 0V9L5.800 4.500z"/></svg><svg class="ic" style="left:1812px;top:90px" width="16" height="16" viewBox="0 0 16 16"><path fill="#f2f2f2" d="M8 .4 9.300 3.200 12 1.700 11.900 4.800 15 4.900 13.200 7.400 15.600 9.300 12.700 10.300 13.600 13.300 10.600 12.500 9.700 15.500 8 13 6.300 15.500 5.400 12.500 2.400 13.300 3.300 10.300.4 9.300 2.800 7.400 1 4.900 4.100 4.800 4 1.700 6.700 3.200z"/><circle cx="8" cy="8.200" r="3.400" fill="#2e2e2e"/></svg><span class="t" style="left:1834.3px;top:87.5px;font-size:11.3px;color:#cfcfcf;font-weight:normal;">SpawnLocation</span><svg style="left:1794.8px;top:111.9px" width="5.400" height="8.200" viewBox="0 0 6 9"><path fill="#e4e4e4" d="M.3 0V9L5.800 4.500z"/></svg><svg class="ic" style="left:1812px;top:108px" width="16" height="16" viewBox="0 0 16 16"><path fill="none" stroke="#f2f2f2" stroke-width="1.200" stroke-linejoin="round" d="M8 1.200 14.200 4.600V11.400L8 14.800 1.800 11.400V4.600zM1.800 4.600 8 8 14.200 4.600M8 8V14.800"/></svg><span class="t" style="left:1834.3px;top:105.5px;font-size:11.3px;color:#cfcfcf;font-weight:normal;">Baseplate</span><svg class="ic" style="left:1792px;top:126px" width="16" height="16" viewBox="0 0 16 16"><g fill="#f5a550"><circle cx="3.600" cy="3.200" r="2.100"/><circle cx="12.400" cy="3.200" r="2.100"/><circle cx="2.300" cy="8.700" r="2.100"/><circle cx="13.700" cy="8.700" r="2.100"/></g><circle cx="8" cy="6.300" r="3" fill="#2e2e2e"/><circle cx="8" cy="6.300" r="2.400" fill="#14c85a"/><path fill="#2e2e2e" d="M4.200 15.500V11.600c0-1.400 1-2.400 2.400-2.400h2.800c1.400 0 2.400 1 2.400 2.400v3.900z"/><path fill="#14c85a" d="M4.900 15V11.800c0-1.100.8-1.900 1.900-1.900h2.400c1.100 0 1.900.8 1.900 1.900V15z"/></svg><span class="t" style="left:1814.3px;top:123.5px;font-size:11.3px;color:#cfcfcf;font-weight:normal;">Players</span><svg style="left:1774.8px;top:147.9px" width="5.400" height="8.200" viewBox="0 0 6 9"><path fill="#e4e4e4" d="M.3 0V9L5.800 4.500z"/></svg><svg class="ic" style="left:1792px;top:144px" width="16" height="16" viewBox="0 0 16 16"><path fill="#f5f03c" d="M8 .9c2.700 0 4.700 2 4.700 4.500 0 1.600-.8 2.700-1.600 3.700-.5.600-.7 1.200-.7 1.900H5.600c0-.7-.2-1.300-.7-1.900-.8-1-1.600-2.100-1.600-3.700C3.300 2.900 5.300.9 8 .9z"/><rect x="5.500" y="11.600" width="5" height="1.100" rx=".5" fill="#f5f03c"/><rect x="5.900" y="13.200" width="4.200" height="1.100" rx=".5" fill="#f5f03c"/><path fill="#f5f03c" d="M6.800 14.700h2.400L8 15.600z"/><path fill="none" stroke="#2e2e2e" stroke-width=".8" d="M8.600 2.400c1.300.2 2.300 1.300 2.400 2.700"/></svg><span class="t" style="left:1814.3px;top:141.5px;font-size:11.3px;color:#cfcfcf;font-weight:normal;">Lighting</span><svg class="ic" style="left:1792px;top:162px" width="16" height="16" viewBox="0 0 16 16"><circle cx="6.400" cy="6.400" r="5.700" fill="#f5a550"/><path fill="#2e2e2e" d="M2.400 5.200c.6-1.500 2.100-2.600 3.800-2.700l.6 2.100c-1.700-.3-3.100.2-4.400.6z" opacity=".85"/><path fill="none" stroke="#2e2e2e" stroke-width=".7" d="M6.800 4.600 9 9.500M6.800 4.600 11.600 4.300" opacity=".6"/><rect x="7.4" y="7.4" width="9" height="9" rx="1.6" fill="#2e2e2e"/><rect x="8.4" y="8.4" width="7" height="7" rx="1" fill="#f2f2f2"/><circle cx="11.9" cy="11.9" r="1.55" fill="#2e2e2e"/></svg><span class="t" style="left:1814.3px;top:159.5px;font-size:11.3px;color:#cfcfcf;font-weight:normal;">MaterialService</span><svg class="ic" style="left:1792px;top:180px" width="16" height="16" viewBox="0 0 16 16"><path fill="none" stroke="#4d90f5" stroke-width="1.100" d="M3.400 6.500V1.900H12.600V6.500"/><path fill="#4d90f5" d="M1.300 5.300h4.200L3.400 8zM10.500 5.300h4.200L12.600 8z"/><rect x=".9" y="9.200" width="5.600" height="6.200" rx="1.200" fill="#f2f2f2"/><rect x="9.500" y="9.200" width="5.600" height="6.200" rx="1.200" fill="#f2f2f2"/><g fill="#2e2e2e"><rect x="2.100" y="10.500" width="3.200" height="1.300" rx=".4"/><rect x="2.100" y="12.900" width="3.200" height="1.300" rx=".4"/><rect x="10.700" y="10.500" width="3.200" height="1.300" rx=".4"/><rect x="10.700" y="12.900" width="3.200" height="1.300" rx=".4"/></g></svg><span class="t" style="left:1814.3px;top:177.5px;font-size:11.3px;color:#cfcfcf;font-weight:normal;">ReplicatedFirst</span><svg style="left:1772.9px;top:202.8px" width="8.200" height="5.400" viewBox="0 0 9 6"><path fill="#e4e4e4" d="M0 .3H9L4.500 5.800z"/></svg><svg class="ic" style="left:1792px;top:198px" width="16" height="16" viewBox="0 0 16 16"><path fill="none" stroke="#f2f2f2" stroke-width="1.300" d="M1.700 8.500V3.100c0-.6.400-1 1-1H10"/><path fill="none" stroke="#bdbdbd" stroke-width="1.100" d="M3.600 6.500V4.700c0-.3.200-.5.500-.5H10.500"/><path fill="none" stroke="#f5c518" stroke-width="1.300" stroke-linejoin="round" d="M5.100 6.800H15.100V9.400H5.100zM6 9.400 6.600 15H13.600L14.200 9.400"/><rect x="8.300" y="10.600" width="3.600" height="1.200" rx=".5" fill="#f5c518"/></svg><span class="t" style="left:1814.3px;top:195.5px;font-size:11.3px;color:#cfcfcf;font-weight:normal;">ReplicatedStorage</span><svg class="ic" style="left:1812px;top:216px" width="16" height="16" viewBox="0 0 16 16"><path fill="#aa69fb" d="M1.400.9H12.500L12.200 6.900H9.300L9.100 9.500H8V13.100H.4L1.200 11.400Z"/><g fill="#2e2e2e" opacity=".8"><rect x="3.900" y="3.050" width="5.100" height=".9"/><rect x="3.900" y="6" width="4.900" height=".9"/><rect x="3.900" y="8.950" width="3.600" height=".9"/></g><path fill="#2e2e2e" stroke="#2e2e2e" stroke-width="1.700" stroke-linejoin="round" d="M8 10.600H9.600C8.700 7.300 12.500 7.300 11.600 10.600H13.200V11.200L15.300 12.600 13.200 14V14.900H8V13.300C9.300 13.800 9.300 11.500 8 12Z"/><path fill="#fff" d="M8 10.600H9.600C8.700 7.300 12.500 7.300 11.600 10.600H13.200V11.200L15.300 12.600 13.200 14V14.900H8V13.300C9.300 13.800 9.300 11.500 8 12Z"/></svg><span class="t" style="left:1834.3px;top:213.5px;font-size:10.6px;color:#cfcfcf;font-weight:normal;letter-spacing:-.8px">ECR</span><div style="left:1768px;top:233px;width:451px;height:18px;background:#0b5aaf;"></div><svg class="ic" style="left:1812px;top:234px" width="16" height="16" viewBox="0 0 16 16"><path fill="#f2f2f2" d="M1.400.9H12.500L12.200 6.900H9.300L9.100 9.500H8V13.100H.4L1.200 11.400Z"/><g fill="#0b5aaf" opacity=".8"><rect x="3.900" y="3.050" width="5.100" height=".9"/><rect x="3.900" y="6" width="4.900" height=".9"/><rect x="3.900" y="8.950" width="3.600" height=".9"/></g><path fill="#0b5aaf" stroke="#0b5aaf" stroke-width="1.700" stroke-linejoin="round" d="M8 10.600H9.600C8.700 7.300 12.500 7.300 11.600 10.600H13.200V11.200L15.300 12.600 13.200 14V14.900H8V13.300C9.300 13.800 9.300 11.500 8 12Z"/><path fill="#fff" d="M8 10.600H9.600C8.700 7.300 12.500 7.300 11.600 10.600H13.200V11.200L15.300 12.600 13.200 14V14.900H8V13.300C9.300 13.800 9.300 11.500 8 12Z"/></svg><span class="t" style="left:1834.3px;top:231.5px;font-size:11.3px;color:#fff;font-weight:normal;">Jecs</span><svg style="left:1794.8px;top:255.9px" width="5.400" height="8.200" viewBox="0 0 6 9"><path fill="#e4e4e4" d="M.3 0V9L5.800 4.500z"/></svg><svg class="ic" style="left:1812px;top:252px" width="16" height="16" viewBox="0 0 16 16"><path fill="#aa69fb" d="M1.400.9H12.500L12.200 6.900H9.300L9.100 9.500H8V13.100H.4L1.200 11.400Z"/><g fill="#2e2e2e" opacity=".8"><rect x="3.900" y="3.050" width="5.100" height=".9"/><rect x="3.900" y="6" width="4.900" height=".9"/><rect x="3.900" y="8.950" width="3.600" height=".9"/></g><path fill="#2e2e2e" stroke="#2e2e2e" stroke-width="1.700" stroke-linejoin="round" d="M8 10.600H9.600C8.700 7.300 12.500 7.300 11.600 10.600H13.200V11.200L15.300 12.600 13.200 14V14.900H8V13.300C9.300 13.800 9.300 11.500 8 12Z"/><path fill="#fff" d="M8 10.600H9.600C8.700 7.300 12.500 7.300 11.600 10.600H13.200V11.200L15.300 12.600 13.200 14V14.900H8V13.300C9.300 13.800 9.300 11.500 8 12Z"/></svg><span class="t" style="left:1834.3px;top:249.5px;font-size:11.3px;color:#cfcfcf;font-weight:normal;">Matter</span><svg style="left:1794.8px;top:273.9px" width="5.400" height="8.200" viewBox="0 0 6 9"><path fill="#e4e4e4" d="M.3 0V9L5.800 4.500z"/></svg><svg class="ic" style="left:1812px;top:270px" width="16" height="16" viewBox="0 0 16 16"><path fill="#aa69fb" d="M1.400.9H12.500L12.200 6.900H9.300L9.100 9.500H8V13.100H.4L1.200 11.400Z"/><g fill="#2e2e2e" opacity=".8"><rect x="3.900" y="3.050" width="5.100" height=".9"/><rect x="3.900" y="6" width="4.900" height=".9"/><rect x="3.900" y="8.950" width="3.600" height=".9"/></g><path fill="#2e2e2e" stroke="#2e2e2e" stroke-width="1.700" stroke-linejoin="round" d="M8 10.600H9.600C8.700 7.300 12.500 7.300 11.600 10.600H13.200V11.200L15.300 12.600 13.200 14V14.900H8V13.300C9.300 13.800 9.300 11.500 8 12Z"/><path fill="#fff" d="M8 10.600H9.600C8.700 7.300 12.500 7.300 11.600 10.600H13.200V11.200L15.300 12.600 13.200 14V14.900H8V13.300C9.300 13.800 9.300 11.500 8 12Z"/></svg><span class="t" style="left:1834.3px;top:267.5px;font-size:11.3px;color:#cfcfcf;font-weight:normal;">MatterWithoutView</span><svg class="ic" style="left:1792px;top:288px" width="16" height="16" viewBox="0 0 16 16"><path fill="#1fba6b" d="M3.6 10.2C1.7 10.2.4 8.900.4 7.3c0-1.500 1.100-2.700 2.600-2.900C3.500 2.500 5.200 1.100 7.200 1.100c1.600 0 3 .9 3.700 2.200 1.800.1 3.200 1.500 3.200 3.300 0 1.900-1.500 3.500-3.400 3.600z"/><path fill="none" stroke="#2e2e2e" stroke-width=".8" d="M6 4.600c.9-.8 2.300-.7 3.100.1"/><path fill="#2e2e2e" d="M7.200 7.400H16.300L15.700 16.300H6.400z"/><path fill="#f2f2f2" d="M8.200 8.400H15.300L14.900 15.300H7.500z"/><g fill="#2e2e2e"><rect x="9.300" y="10" width="4.500" height="1.100"/><rect x="9.100" y="12.300" width="4.500" height="1.100"/></g></svg><span class="t" style="left:1814.3px;top:285.5px;font-size:11.3px;color:#cfcfcf;font-weight:normal;">ServerScriptService</span><svg style="left:1774.8px;top:309.9px" width="5.400" height="8.200" viewBox="0 0 6 9"><path fill="#e4e4e4" d="M.3 0V9L5.800 4.500z"/></svg><svg class="ic" style="left:1792px;top:306px" width="16" height="16" viewBox="0 0 16 16"><path fill="#1fba6b" d="M3.6 10.2C1.7 10.2.4 8.900.4 7.3c0-1.500 1.100-2.700 2.600-2.900C3.500 2.500 5.200 1.100 7.200 1.100c1.600 0 3 .9 3.700 2.200 1.800.1 3.200 1.500 3.200 3.300 0 1.900-1.500 3.500-3.400 3.600z"/><path fill="none" stroke="#2e2e2e" stroke-width=".8" d="M6 4.600c.9-.8 2.300-.7 3.100.1"/><rect x="7.300" y="9.600" width="9" height="6.200" rx="1.500" fill="#2e2e2e"/><rect x="8.300" y="10.600" width="7" height="4.200" rx="1" fill="#f2f2f2"/><rect x="12.500" y="11.300" width="1.800" height="1" rx=".4" fill="#2e2e2e"/></svg><span class="t" style="left:1814.3px;top:303.5px;font-size:11.3px;color:#cfcfcf;font-weight:normal;">ServerStorage</span><svg class="ic" style="left:1792px;top:324px" width="16" height="16" viewBox="0 0 16 16"><path fill="#f8d673" d="M.7 2.6c0-.5.4-.9.9-.9h3.6c.4 0 .7.2.9.5l.7 1.1h5.5c.5 0 .9.4.9.9V11.6c0 .5-.4.9-.9.9H1.6c-.5 0-.9-.4-.9-.9z"/><rect x="6.500" y="7.700" width="10" height="8.300" rx="1.500" fill="#2e2e2e"/><rect x="7.500" y="8.700" width="8" height="6.300" rx="1" fill="#f2f2f2"/><rect x="8.700" y="10.800" width="5.600" height="3" fill="#2e2e2e"/></svg><span class="t" style="left:1814.3px;top:321.5px;font-size:11.3px;color:#cfcfcf;font-weight:normal;">StarterGui</span><svg class="ic" style="left:1792px;top:342px" width="16" height="16" viewBox="0 0 16 16"><path fill="#f8d673" d="M.7 2.6c0-.5.4-.9.9-.9h3.6c.4 0 .7.2.9.5l.7 1.1h5.5c.5 0 .9.4.9.9V11.6c0 .5-.4.9-.9.9H1.6c-.5 0-.9-.4-.9-.9z"/><path fill="none" stroke="#2e2e2e" stroke-width="3.200" stroke-linecap="round" d="M8.200 14.700 11.600 9.300M9.300 8.300C11.400 6.800 13.900 7.800 14.800 10"/><path fill="none" stroke="#f2f2f2" stroke-width="1.400" stroke-linecap="round" d="M8.200 14.700 11.600 9.300"/><path fill="none" stroke="#f2f2f2" stroke-width="1.700" stroke-linecap="round" d="M9.300 8.300C11.400 6.800 13.900 7.800 14.800 10"/></svg><span class="t" style="left:1814.3px;top:339.5px;font-size:11.3px;color:#cfcfcf;font-weight:normal;">StarterPack</span><svg style="left:1774.8px;top:363.9px" width="5.400" height="8.200" viewBox="0 0 6 9"><path fill="#e4e4e4" d="M.3 0V9L5.800 4.500z"/></svg><svg class="ic" style="left:1792px;top:360px" width="16" height="16" viewBox="0 0 16 16"><path fill="#f8d673" d="M.7 2.6c0-.5.4-.9.9-.9h3.6c.4 0 .7.2.9.5l.7 1.1h5.5c.5 0 .9.4.9.9V11.6c0 .5-.4.9-.9.9H1.6c-.5 0-.9-.4-.9-.9z"/><circle cx="11.900" cy="9.900" r="3.100" fill="#2e2e2e"/><path fill="#2e2e2e" d="M6.800 16.300c0-2.500 1.600-4.300 4-4.300h2.200c2.400 0 4 1.800 4 4.300z"/><circle cx="11.900" cy="9.900" r="2.200" fill="#f2f2f2"/><path fill="#f2f2f2" d="M7.900 15.600c0-1.800 1.300-3 3.100-3h1.800c1.800 0 3.100 1.200 3.100 3z"/></svg><span class="t" style="left:1814.3px;top:357.5px;font-size:11.3px;color:#cfcfcf;font-weight:normal;">StarterPlayer</span><svg class="ic" style="left:1792px;top:378px" width="16" height="16" viewBox="0 0 16 16"><path fill="#f8d673" d="M.7 2.6c0-.5.4-.9.9-.9h3.6c.4 0 .7.2.9.5l.7 1.1h5.5c.5 0 .9.4.9.9V11.6c0 .5-.4.9-.9.9H1.6c-.5 0-.9-.4-.9-.9z"/><circle cx="8.800" cy="10.600" r="2.600" fill="#2e2e2e"/><circle cx="12.900" cy="10.200" r="3" fill="#2e2e2e"/><path fill="#2e2e2e" d="M3.800 16.300c0-2 1.300-3.400 3.200-3.400h6.500c2.100 0 3.500 1.500 3.500 3.400z"/><circle cx="8.500" cy="10.700" r="1.700" fill="#f2f2f2"/><path fill="#f2f2f2" d="M4.900 15.600c0-1.400 1-2.300 2.300-2.300h1.500c-.5.600-.8 1.400-.8 2.300z"/><circle cx="12.800" cy="10.300" r="2.100" fill="#f2f2f2"/><path fill="#f2f2f2" d="M8.900 15.600c0-1.700 1.200-2.800 2.800-2.800h2.200c1.600 0 2.800 1.100 2.800 2.800z"/></svg><span class="t" style="left:1814.3px;top:375.5px;font-size:11.3px;color:#cfcfcf;font-weight:normal;">Teams</span><svg class="ic" style="left:1792px;top:396px" width="16" height="16" viewBox="0 0 16 16"><path fill="#29a9f5" d="M.8 5.300H3.600L7.600 1.300V13.300L3.600 9.300H.8z"/><path fill="none" stroke="#29a9f5" stroke-width="1.200" stroke-linecap="round" d="M10 2.600c1.300 1 2 2.500 2 4.100M12.800 1.400c1.700 1.300 2.600 3.300 2.600 5.400"/><rect x="7.4" y="7.4" width="9" height="9" rx="1.6" fill="#2e2e2e"/><rect x="8.4" y="8.4" width="7" height="7" rx="1" fill="#f2f2f2"/><circle cx="11.9" cy="11.9" r="1.55" fill="#2e2e2e"/></svg><span class="t" style="left:1814.3px;top:393.5px;font-size:11.3px;color:#cfcfcf;font-weight:normal;">SoundService</span><svg style="left:1774.8px;top:417.9px" width="5.400" height="8.200" viewBox="0 0 6 9"><path fill="#e4e4e4" d="M.3 0V9L5.800 4.500z"/></svg><svg class="ic" style="left:1792px;top:414px" width="16" height="16" viewBox="0 0 16 16"><path fill="#d4d4d4" d="M7.200.8c3.800 0 6.800 2.300 6.800 5.300 0 3-3 5.300-6.800 5.300-.6 0-1.100 0-1.600-.1-.9 1-2 1.600-3.400 1.800.7-.8 1.100-1.700 1.100-2.700C1.500 9.400.4 7.900.4 6.100.4 3.100 3.400.8 7.200.8z"/><g fill="#2e2e2e"><circle cx="4.200" cy="6" r=".85"/><circle cx="7.200" cy="6" r=".85"/><circle cx="10.200" cy="6" r=".85"/></g><rect x="7.4" y="7.4" width="9" height="9" rx="1.6" fill="#2e2e2e"/><rect x="8.4" y="8.4" width="7" height="7" rx="1" fill="#f2f2f2"/><circle cx="11.9" cy="11.9" r="1.55" fill="#2e2e2e"/></svg><span class="t" style="left:1814.3px;top:411.5px;font-size:11.3px;color:#cfcfcf;font-weight:normal;">TextChatService</span><svg style="left:1774.8px;top:435.9px" width="5.400" height="8.200" viewBox="0 0 6 9"><path fill="#e4e4e4" d="M.3 0V9L5.800 4.500z"/></svg><svg class="ic" style="left:1792px;top:432px" width="16" height="16" viewBox="0 0 16 16"><circle cx="7" cy="7" r="5.900" fill="none" stroke="#29a9f5" stroke-width="1.200"/><path fill="none" stroke="#29a9f5" stroke-width="1.300" stroke-linecap="round" stroke-linejoin="round" d="M4.300 7.200 6.300 9.100 9.900 5.100"/><rect x="7.4" y="7.4" width="9" height="9" rx="1.6" fill="#2e2e2e"/><rect x="8.4" y="8.4" width="7" height="7" rx="1" fill="#f2f2f2"/><circle cx="11.9" cy="11.9" r="1.55" fill="#2e2e2e"/></svg><span class="t" style="left:1814.3px;top:429.5px;font-size:11.3px;color:#cfcfcf;font-weight:normal;">TestService</span><div style="left:1766.2px;top:656.8px;width:455px;height:4.4px;background:#404040;"></div><div style="left:1766.2px;top:661.2px;width:455px;height:1.7px;background:#242424;"></div><div style="left:1768px;top:663px;width:451px;height:27px;background:#353535;"></div><span class="t" style="left:1967.8px;top:667px;font-size:15.36px;color:#ababab;font-weight:normal;transform:translateX(-50%);">Properties - ModuleScript &quot;Jecs&quot;</span><svg style="left:2167px;top:673px" width="9" height="6" viewBox="0 0 9 6"><path fill="none" stroke="#e0e0e0" stroke-width="1.400" d="M.7.800 4.500 4.600 8.300.800"/></svg><svg style="left:2183px;top:669.500px" width="12" height="12" viewBox="0 0 12 12"><path fill="none" stroke="#e8e8e8" stroke-width="1.200" d="M4.600 5.800H1.600V10.900H7V8"/><path fill="none" stroke="#e8e8e8" stroke-width="1.100" d="M11.100 1 5.900 6.300"/><path fill="#e8e8e8" d="M5.200 7 5.400 3.300 9 6.800z"/></svg><svg style="left:2202px;top:672.5px" width="8" height="8" viewBox="0 0 8 8"><path stroke="#e0e0e0" stroke-width="1.200" d="M.8.8 7.200 7.200M7.200.8.8 7.200"/></svg><div style="left:1768px;top:690px;width:451px;height:21px;background:#2e2e2e;border:1px solid #212121"></div><span class="t" style="left:1773px;top:689.5px;font-size:11.2px;color:#d6d6d6;font-weight:normal;">Filter Properties (Ctrl+Shift+P)</span><svg style="left:2207px;top:698px" width="6.500" height="4" viewBox="0 0 8 5"><path fill="#9a9a9a" d="M0 .3H8L4 4.700z"/></svg><div style="left:1768px;top:715.5px;width:451px;height:25px;background:#353535;border-bottom:1px solid #262626"></div><svg style="left:1774px;top:725.0px" width="9" height="6" viewBox="0 0 9 6"><path fill="#e4e4e4" d="M0 .3H9L4.500 5.800z"/></svg><span class="t" style="left:1792px;top:718.0px;font-size:11.3px;color:#dcdcdc;font-weight:bold;">Data</span><div style="left:1768px;top:740.5px;width:451px;height:24px;background:#2e2e2e;border-bottom:1px solid #242424"></div><div style="left:1992px;top:740.5px;width:1px;height:24px;background:#242424;"></div><span class="t" style="left:1792px;top:742.6px;font-size:11.3px;color:#d4d4d4;font-weight:normal;">Archivable</span><div style="left:1999px;top:746.6px;width:12.5px;height:12px;background:#35b5ff;border-radius:2.500px"></div><svg style="left:2000.500px;top:748.6px" width="10" height="8" viewBox="0 0 10 8"><path fill="none" stroke="#fff" stroke-width="1.700" d="M1 3.800 3.800 6.500 9 1.200"/></svg><div style="left:1768px;top:764.5px;width:451px;height:21px;background:#2e2e2e;border-bottom:1px solid #242424"></div><div style="left:1992px;top:764.5px;width:1px;height:21px;background:#242424;"></div><span class="t" style="left:1792px;top:764.5px;font-size:11.3px;color:#666;font-weight:normal;">ClassName</span><span class="t" style="left:1997px;top:764.5px;font-size:11.3px;color:#666;font-weight:normal;">ModuleScript</span><div style="left:1768px;top:785.5px;width:451px;height:21px;background:#2e2e2e;border-bottom:1px solid #242424"></div><div style="left:1992px;top:785.5px;width:1px;height:21px;background:#242424;"></div><span class="t" style="left:1792px;top:785.5px;font-size:11.3px;color:#d4d4d4;font-weight:normal;">Name</span><span class="t" style="left:1997px;top:785.5px;font-size:11.3px;color:#d4d4d4;font-weight:normal;">Jecs</span><div style="left:1768px;top:806.5px;width:451px;height:21px;background:#2e2e2e;border-bottom:1px solid #242424"></div><div style="left:1992px;top:806.5px;width:1px;height:21px;background:#242424;"></div><span class="t" style="left:1792px;top:806.5px;font-size:11.3px;color:#d4d4d4;font-weight:normal;">Parent</span><span class="t" style="left:1997px;top:806.5px;font-size:11.3px;color:#d4d4d4;font-weight:normal;">ReplicatedStorage</span><div style="left:1768px;top:828px;width:451px;height:24.5px;background:#353535;border-bottom:1px solid #262626"></div><svg style="left:1774px;top:837.25px" width="9" height="6" viewBox="0 0 9 6"><path fill="#e4e4e4" d="M0 .3H9L4.500 5.800z"/></svg><span class="t" style="left:1792px;top:830.25px;font-size:11.3px;color:#dcdcdc;font-weight:bold;">Tags</span><div style="left:2199px;top:831.8px;width:16px;height:11px;background:#2e2e2e;"></div><div style="left:2203px;top:836.5px;width:8px;height:1.4px;background:#bcbcbc;"></div><div style="left:2206.3px;top:833.2px;width:1.4px;height:8px;background:#bcbcbc;"></div><div style="left:1768px;top:852.5px;width:451px;height:21.5px;background:#2e2e2e;border-bottom:1px solid #242424"></div><span class="t" style="left:1788px;top:853px;font-size:11.1px;color:#787878;font-weight:normal;">No Tags have been added yet</span><div style="left:1768px;top:874px;width:451px;height:24.5px;background:#353535;border-bottom:1px solid #262626"></div><svg style="left:1774px;top:883.25px" width="9" height="6" viewBox="0 0 9 6"><path fill="#e4e4e4" d="M0 .3H9L4.500 5.800z"/></svg><span class="t" style="left:1792px;top:876.25px;font-size:11.3px;color:#dcdcdc;font-weight:bold;">Attributes</span><div style="left:2199px;top:877.8px;width:16px;height:11px;background:#2e2e2e;"></div><div style="left:2203px;top:882.5px;width:8px;height:1.4px;background:#bcbcbc;"></div><div style="left:2206.3px;top:879.2px;width:1.4px;height:8px;background:#bcbcbc;"></div><div style="left:1768px;top:898.5px;width:451px;height:21.5px;background:#2e2e2e;border-bottom:1px solid #242424"></div><span class="t" style="left:1788px;top:899px;font-size:11.15px;color:#787878;font-weight:normal;">No Attribute has been added yet</span><div style="left:0px;top:556px;width:1.1px;height:431px;background:#3d3d3d;"></div><div style="left:1.1px;top:584px;width:1.2px;height:388.5px;background:#222;"></div></body></html>
